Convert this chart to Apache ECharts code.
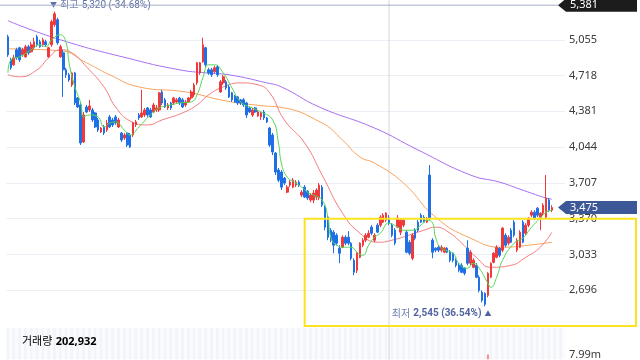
<!DOCTYPE html>
<html><head><meta charset="utf-8">
<script src="https://cdn.jsdelivr.net/npm/echarts/dist/echarts.min.js"></script>
<style>html,body{margin:0;padding:0;background:#fff}#c{width:640px;height:360px}</style>
</head><body><div id="c"></div>
<script>
// ---- data: [open, close, low, high] ----
const candles = [
[5083,4913,4894,5102],[4866,4791,4772,4885],[4819,4885,4810,4913],[4961,4885,4866,4980],[4980,4866,4847,4989],
[4913,4961,4894,4980],[4894,4989,4885,5008],[4989,4932,4913,5008],[4942,5008,4932,5036],[4980,5036,4961,5074],
[5083,5008,4989,5102],[5036,4989,4980,5055],[5008,5055,4989,5074],[5036,5008,4989,5055],[4894,4980,4885,4989],
[5008,5225,4989,5244],[5197,5300,5178,5320],[5244,5027,5008,5263],[4894,4989,4885,5008],[4932,4772,4517,4961],
[4772,4725,4696,4791],[4725,4677,4659,4743],[4630,4743,4611,4753],[4743,4460,4441,4753],[4507,4422,4413,4517],
[4441,4083,4064,4460],[4092,4347,4083,4375],[4422,4375,4366,4441],[4394,4432,4375,4489],[4394,4300,4281,4413],
[4366,4234,4224,4375],[4300,4205,4187,4319],[4187,4224,4177,4234],[4234,4177,4158,4253],[4205,4271,4187,4300],
[4328,4234,4224,4347],[4300,4253,4234,4319],[4328,4271,4253,4347],[4234,4300,4224,4319],[4177,4111,4092,4187],
[4130,4158,4111,4177],[4177,4064,4045,4187],[4158,4045,4036,4177],[4158,4271,4139,4281],[4253,4281,4234,4300],
[4347,4319,4300,4366],[4328,4366,4319,4583],[4347,4394,4328,4413],[4413,4347,4328,4422],[4394,4328,4319,4413],
[4375,4441,4366,4460],[4394,4413,4375,4441],[4394,4555,4375,4564],[4564,4460,4441,4583],[4489,4422,4413,4507],
[4413,4441,4394,4460],[4460,4413,4394,4470],[4460,4507,4441,4517],[4470,4489,4460,4507],[4507,4460,4441,4517],
[4489,4422,4413,4507],[4441,4470,4422,4489],[4470,4507,4460,4517],[4507,4564,4489,4583],[4536,4630,4517,4649],
[4649,4838,4630,4847],[4743,4838,4725,4847],[4847,5008,4838,5074],[4980,4819,4800,4989],[4772,4743,4725,4791],
[4772,4725,4706,4791],[4753,4791,4743,4810],[4800,4725,4706,4819],[4564,4659,4555,4677],[4649,4706,4630,4725],
[4659,4602,4583,4677],[4611,4517,4507,4630],[4555,4489,4470,4564],[4526,4470,4460,4536],[4517,4460,4441,4526],
[4489,4460,4441,4498],[4489,4441,4422,4507],[4460,4347,4319,4470],[4413,4375,4366,4422],[4347,4394,4328,4413],
[4413,4375,4366,4422],[4338,4375,4328,4394],[4328,4366,4300,4375],[4375,4319,4300,4394],[4319,4281,4271,4328],
[4224,4064,4045,4234],[4158,3998,3969,4177],[3988,3809,3781,3998],[3828,3733,3714,3847],[3809,3667,3639,3828],
[3752,3705,3686,3762],[3620,3667,3611,3686],[3686,3714,3667,3733],[3667,3733,3657,3752],[3686,3714,3667,3733],
[3714,3686,3667,3733],[3592,3620,3573,3639],[3667,3573,3564,3686],[3630,3564,3545,3639],[3545,3592,3526,3611],
[3545,3611,3516,3639],[3573,3639,3545,3657],[3564,3686,3545,3705],[3667,3497,3479,3686],[3479,3290,3261,3497],
[3384,3195,3167,3403],[3261,3167,3148,3281],[3243,3120,3044,3261],[3214,3139,3120,3233],[3092,3044,2950,3120],
[3101,3195,3092,3214],[3195,3139,3120,3214],[3195,3139,3120,3252],[3139,2997,2978,3148],[2978,2865,2837,2997],
[2884,3044,2856,3054],[3006,3139,2997,3148],[3120,3167,3101,3186],[3167,3214,3148,3233],[3195,3233,3186,3261],
[3290,3233,3214,3309],[3167,3214,3148,3233],[3309,3243,3233,3328],[3309,3384,3290,3403],[3337,3403,3328,3422],
[3356,3422,3337,3431],[3375,3328,3309,3403],[3309,3214,3195,3328],[3261,3139,3120,3281],[3290,3375,3281,3403],
[3243,3356,3214,3375],[3309,3356,3290,3375],[3243,3054,3044,3261],[3148,3044,3025,3167],[2997,3214,2978,3233],
[3261,3186,3167,3281],[3337,3261,3243,3356],[3403,3337,3328,3422],[3384,3337,3328,3403],[3337,3375,3328,3384],
[3781,3375,3356,3875],[3167,3054,2997,3186],[3092,3073,3054,3101],[3101,3073,3054,3120],[3073,3101,3054,3120],
[3054,3092,3044,3101],[3092,3054,3044,3101],[3054,2978,2959,3073],[3044,2978,2959,3054],[2978,2931,2912,2997],
[2931,2884,2865,2950],[2931,2865,2856,2950],[2903,2856,2837,2912],[3092,2950,2931,3167],[2950,3054,2931,3073],
[2912,2978,2903,2997],[2931,2818,2809,2950],[2818,2695,2676,2837],[2676,2601,2582,2695],[2667,2563,2545,2676],
[2648,2856,2629,2865],[2818,2950,2809,2959],[2959,3044,2950,3054],[3006,3101,2997,3120],[3092,3025,3006,3101],
[3073,3281,3054,3290],[3214,3120,3101,3233],[3139,3195,3120,3214],[3261,3148,3139,3281],[3337,3214,3195,3356],
[3073,3167,3054,3186],[3101,3243,3092,3261],[3337,3148,3139,3356],[3233,3309,3214,3328],[3309,3375,3290,3384],
[3403,3431,3384,3450],[3431,3375,3356,3450],[3469,3403,3384,3479],[3384,3422,3261,3431],[3422,3497,3403,3516],
[3384,3564,3375,3781],[3545,3450,3431,3564],[3450,3475,3431,3497]
];
// volume in millions of shares
const volumesM = [
2.1,1.5,1.2,1.4,1.3,1.1,1.6,1.2,1.5,1.8,2.0,1.4,1.6,1.3,1.7,3.9,5.2,4.1,2.2,3.1,
1.8,1.6,2.4,3.0,1.9,4.8,3.6,1.5,1.3,1.7,2.0,1.4,1.2,1.6,1.1,1.3,1.2,1.4,1.8,1.5,
2.1,1.9,1.6,1.3,2.6,1.4,1.2,1.1,1.5,1.2,2.9,2.2,1.3,1.2,1.1,1.3,1.0,1.2,1.1,1.3,
1.4,2.0,2.8,4.5,3.7,6.1,3.9,2.0,1.6,1.4,1.7,2.3,1.8,1.6,2.1,1.5,1.3,1.4,1.2,2.4,
1.6,1.3,1.2,1.1,1.3,1.4,1.5,3.2,3.5,4.0,2.6,3.3,1.9,2.2,1.5,1.4,1.3,1.6,1.2,2.0,
1.7,1.5,1.3,1.6,2.5,4.2,4.6,3.0,3.4,2.1,2.9,2.3,1.6,2.0,2.8,3.5,3.1,2.4,1.8,1.7,
1.5,1.6,1.4,1.3,2.0,1.9,1.7,1.8,1.5,2.2,2.6,2.1,1.9,1.6,2.7,2.0,2.4,1.8,1.6,1.5,
1.3,1.4,1.2,1.3,6.8,3.9,2.1,1.5,1.4,1.3,1.2,1.7,1.5,1.6,1.8,1.4,1.3,1.5,3.2,2.0,
1.8,2.4,3.1,3.6,4.2,7.99,4.8,3.3,2.9,2.1,4.4,2.6,2.0,2.3,2.5,1.9,2.6,3.0,2.2,1.9,
2.1,1.7,1.8,2.4,2.0,5.1,2.3,0.202932
];
// moving averages: [candle index, value]
const ma5 = [[0,4743],[1,4866],[4,4894],[8,4961],[11,5008],[13,4989],[15,5055],[18,5102],[20,5027],[21,4838],[23,4611],[25,4460],[26,4328],[28,4347],[31,4328],[33,4234],[35,4271],[37,4281],[40,4205],[42,4158],[45,4234],[49,4347],[52,4413],[56,4441],[59,4460],[63,4470],[65,4536],[67,4696],[69,4819],[71,4819],[74,4743],[77,4602],[80,4470],[84,4413],[87,4375],[91,4300],[93,4083],[94,3894],[96,3762],[99,3705],[101,3667],[103,3620],[105,3592],[108,3545],[110,3384],[111,3195],[113,3120],[116,3101],[118,3101],[120,3054],[122,3025],[124,3120],[126,3195],[128,3233],[131,3328],[134,3290],[136,3261],[139,3261],[142,3309],[144,3356],[146,3328],[147,3195],[149,3092],[153,3044],[155,2950],[158,2903],[160,2950],[162,2903],[165,2761],[166,2723],[168,2818],[170,2978],[174,3139],[177,3186],[180,3290],[183,3375],[185,3431],[187,3450]];
const ma20 = [[0,4725],[4,4706],[10,4772],[14,4885],[18,4961],[22,4932],[27,4800],[33,4611],[37,4422],[42,4290],[48,4253],[53,4300],[60,4366],[65,4441],[69,4536],[74,4611],[80,4649],[86,4630],[90,4555],[95,4300],[102,4083],[108,3781],[115,3422],[121,3233],[127,3148],[132,3167],[143,3261],[147,3290],[152,3233],[156,3139],[161,3006],[166,2912],[173,2931],[178,3006],[183,3101],[187,3243]];
const ma60 = [[0,4970],[18,4951],[27,4838],[35,4725],[45,4611],[61,4564],[75,4479],[88,4432],[93,4422],[108,4271],[115,4111],[121,3951],[126,3894],[136,3705],[147,3384],[159,3186],[170,3101],[179,3120],[187,3148]];
const ma120 = [[0,5234],[18,5055],[42,4876],[59,4772],[68,4743],[76,4725],[89,4649],[94,4611],[107,4422],[126,4224],[141,4017],[159,3781],[169,3714],[176,3648],[185,3564],[187,3554]];

const yMin = 2359, yMax = 5392, yInterval = 337;   // ticks are multiples of 337
const refHighPrice = 5381;      // top reference line / tag
const boxStartIndex = 102, boxTopPrice = 3370;    // yellow box
const crosshairIndex = 131;
const volumeTickM = 7.99, volumeAxisMinM = 7.45, volumeAxisMaxM = 10.95;
const emptySlots = 4;

const N = candles.length;
const categories = Array.from({length: N + emptySlots}, (_, i) => 'D' + (i + 1));
const UP = '#ee3a3a', DOWN = '#1f70e6';
const FONT = "'Noto Sans','Noto Sans CJK KR',sans-serif";
const NUMFONT = "Roboto,'Noto Sans CJK KR',sans-serif";
const fmt = v => Math.round(v).toLocaleString('en-US');

let hiIdx = 0, loIdx = 0;
candles.forEach((c, i) => { if (c[3] > candles[hiIdx][3]) hiIdx = i; if (c[2] < candles[loIdx][2]) loIdx = i; });
const hiVal = candles[hiIdx][3], loVal = candles[loIdx][2];
const lastClose = candles[N - 1][1];
const hiPct = ((lastClose - hiVal) / hiVal * 100).toFixed(2);
const loPct = ((lastClose - loVal) / loVal * 100).toFixed(2);

const chart = echarts.init(document.getElementById('c'));
const gridL = 6.5, gridR = 75;
chart.setOption({
  animation: false,
  textStyle: {fontFamily: FONT},
  grid: [
    {left: gridL, right: gridR, top: 4, height: 322},
    {left: gridL, right: gridR, top: 328, bottom: 0}
  ],
  xAxis: [
    {type: 'category', gridIndex: 0, data: categories, boundaryGap: true,
     axisLine: {show: false}, axisTick: {show: false}, axisLabel: {show: false}, splitLine: {show: false}},
    {type: 'category', gridIndex: 1, data: categories, boundaryGap: true,
     axisLine: {show: false}, axisTick: {show: false}, axisLabel: {show: false}, splitLine: {show: false},
     splitArea: {show: true, interval: 0, areaStyle: {color: ['#f2f4fa', '#fafbfd']}}}
  ],
  yAxis: [
    {type: 'value', gridIndex: 0, position: 'right', min: yMin, max: yMax, interval: yInterval,
     axisLine: {show: false}, axisTick: {show: false},
     axisLabel: {color: '#3a3a3a', fontSize: 11, margin: 4, showMinLabel: false, showMaxLabel: false, formatter: v => fmt(v)},
     splitLine: {show: true, showMinLine: false, showMaxLine: false, lineStyle: {color: '#eceff5', width: 1}}},
    {type: 'value', gridIndex: 1, position: 'right', min: volumeAxisMinM, max: volumeAxisMaxM,
     axisLine: {show: false}, axisTick: {show: false}, splitLine: {show: false},
     axisLabel: {color: '#3a3a3a', fontSize: 11, margin: 4, customValues: [volumeTickM], formatter: v => v.toFixed(2) + 'm'}}
  ],
  series: [
    {type: 'bar', xAxisIndex: 1, yAxisIndex: 1, barWidth: '70%', clip: true,
     data: volumesM.map((v, i) => ({value: v, itemStyle: {color: candles[i][1] >= candles[i][0] ? 'rgba(238,58,58,0.55)' : 'rgba(31,112,230,0.35)'}}))},
    {type: 'line', data: ma120, showSymbol: false, smooth: true, connectNulls: true, lineStyle: {color: '#a46ef3', width: 1}, z: 3},
    {type: 'line', data: ma60, showSymbol: false, smooth: true, connectNulls: true, lineStyle: {color: '#f7a45e', width: 1}, z: 3},
    {type: 'line', data: ma20, showSymbol: false, smooth: true, connectNulls: true, lineStyle: {color: '#f47c7c', width: 1}, z: 3},
    {type: 'candlestick', data: candles, barWidth: '72%', z: 4,
     itemStyle: {color: UP, color0: DOWN, borderColor: UP, borderColor0: DOWN, borderWidth: 1},
     markPoint: {
       symbol: 'rect', symbolSize: 1, itemStyle: {color: 'rgba(0,0,0,0)'},
       data: [
         {coord: [hiIdx, hiVal], label: {show: true, position: [-4, -12], align: 'left', verticalAlign: 'top',
           formatter: '{t|▼} {l|최고} {v|' + fmt(hiVal) + ' (' + hiPct + '%)}',
           rich: {t: {fontSize: 7, color: '#5d70a6'}, l: {fontSize: 10, color: '#7282b0', fontFamily: FONT}, v: {fontSize: 10, color: '#5d70a6', fontFamily: NUMFONT}}}},
         {coord: [loIdx, loVal], label: {show: true, position: [7, 2], align: 'right', verticalAlign: 'top',
           formatter: '{l|최저} {v|' + fmt(loVal) + ' (' + loPct + '%)} {t|▲}',
           rich: {t: {fontSize: 7, color: '#4f63a0'}, l: {fontSize: 10, color: '#7282b0', fontFamily: FONT}, v: {fontSize: 10, fontWeight: 'bold', color: '#4f63a0', fontFamily: NUMFONT}}}}
       ]
     }},
    {type: 'line', data: ma5, showSymbol: false, smooth: true, connectNulls: true, lineStyle: {color: '#55d455', width: 1}, z: 5}
  ]
});

// annotations positioned through the chart's own scales
const px = (i, v) => chart.convertToPixel({xAxisIndex: 0, yAxisIndex: 0}, [i, v]);
const W = chart.getWidth(), H = chart.getHeight();
const gridRight = W - gridR;
const yRef = px(0, refHighPrice)[1];
const yLast = px(0, lastClose)[1];
const boxL = px(boxStartIndex, boxTopPrice);
const yBottom = px(0, yMin)[1];
const xCross = px(crosshairIndex, yMin)[0];
const tag = (y, fill, text) => ({
  type: 'group', z: 20, children: [
    {type: 'polygon', shape: {points: [[gridRight - 7, y], [gridRight + 1, y - 6.5], [W - 3, y - 6.5], [W - 3, y + 6.5], [gridRight + 1, y + 6.5]]}, style: {fill: fill}},
    {type: 'text', x: gridRight + 5, y: y, style: {text: text, fill: '#fff', fontSize: 11, fontFamily: FONT, verticalAlign: 'middle', align: 'left'}}
  ]
});
chart.setOption({
  graphic: [
    {type: 'line', z: 1, shape: {x1: xCross, y1: 0, x2: xCross, y2: H}, style: {stroke: '#d6d6d6', lineWidth: 1}},
    {type: 'line', z: 10, shape: {x1: 0, y1: yRef, x2: gridRight - 7, y2: yRef}, style: {stroke: '#a3adc4', lineWidth: 1}},
    {type: 'rect', z: 15, shape: {x: boxL[0], y: boxL[1], width: W - 4 - boxL[0], height: yBottom - boxL[1]}, style: {fill: null, stroke: '#fbe31f', lineWidth: 2}},
    tag(yRef, '#1c1c1c', fmt(refHighPrice)),
    tag(yLast, '#3c5897', fmt(lastClose)),
    {type: 'text', z: 20, x: 22, y: 342, style: {text: '{a|거래량} {b|' + fmt(volumesM[N - 1] * 1e6) + '}', verticalAlign: 'middle',
      rich: {a: {fontSize: 11, color: '#333', fontFamily: FONT}, b: {fontSize: 11, fontWeight: 'bold', color: '#222', fontFamily: FONT}}}}
  ]
});
</script>
</body></html>
